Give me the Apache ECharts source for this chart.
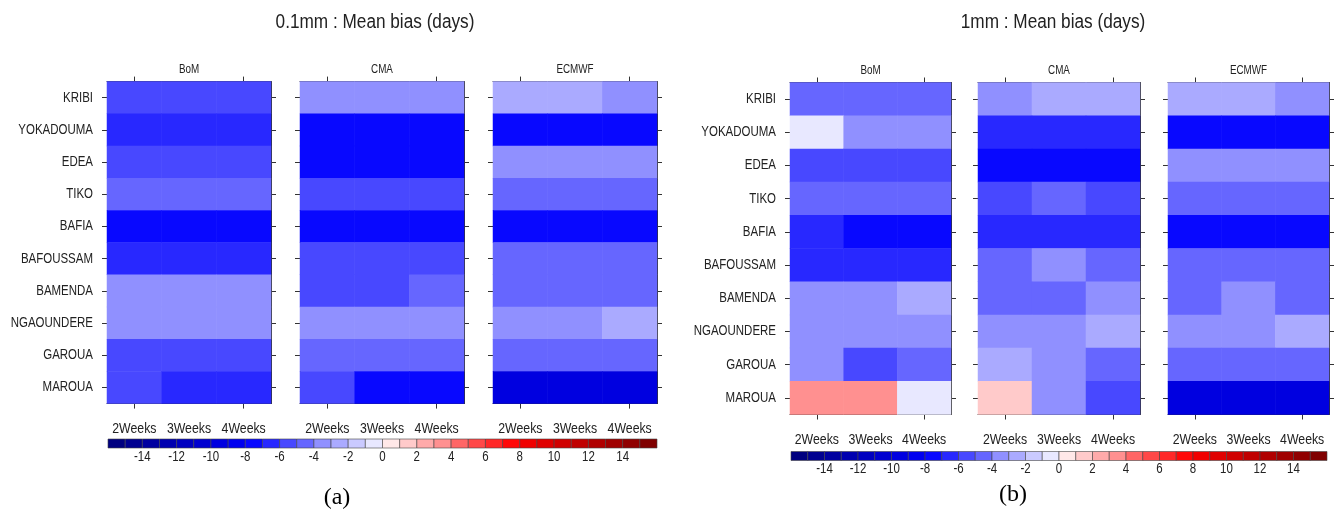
<!DOCTYPE html>
<html>
<head>
<meta charset="utf-8">
<script src="https://cdn.jsdelivr.net/npm/echarts@6/dist/echarts.min.js"></script>
<style>
html,body{margin:0;padding:0;background:#fff;}
#chart{width:1335px;height:514px;}
</style>
</head>
<body>
<div id="chart"></div>
<script>
// ---------- data ----------
const stations = ['KRIBI','YOKADOUMA','EDEA','TIKO','BAFIA','BAFOUSSAM','BAMENDA','NGAOUNDERE','GAROUA','MAROUA'];
const leads = ['2Weeks','3Weeks','4Weeks'];
const models = ['BoM','CMA','ECMWF'];
const titleA = '0.1mm : Mean bias (days)';
const titleB = '1mm : Mean bias (days)';

// mean bias (days), rows = stations, cols = 2/3/4 weeks  (threshold 0.1mm)
const bom01 = [
  [-5.5,-5.5,-5.5],[-6.5,-6.5,-6.5],[-5.5,-5.5,-5.5],[-4.5,-4.5,-4.5],[-7.5,-7.5,-7.5],
  [-6.5,-6.5,-6.5],[-3.5,-3.5,-3.5],[-3.5,-3.5,-3.5],[-5.5,-5.5,-5.5],[-5.5,-6.5,-6.5]];
const cma01 = [
  [-3.5,-3.5,-3.5],[-7.5,-7.5,-7.5],[-7.5,-7.5,-7.5],[-5.5,-5.5,-5.5],[-7.5,-7.5,-7.5],
  [-5.5,-5.5,-5.5],[-5.5,-5.5,-4.5],[-3.5,-3.5,-3.5],[-4.5,-4.5,-4.5],[-5.5,-7.5,-7.5]];
const ecmwf01 = [
  [-2.5,-2.5,-3.5],[-7.5,-7.5,-7.5],[-3.5,-3.5,-3.5],[-4.5,-4.5,-4.5],[-7.5,-7.5,-7.5],
  [-4.5,-4.5,-4.5],[-4.5,-4.5,-4.5],[-3.5,-3.5,-2.5],[-4.5,-4.5,-4.5],[-9.5,-9.5,-9.5]];
// threshold 1mm
const bom1 = [
  [-4.5,-4.5,-4.5],[-0.5,-3.5,-3.5],[-5.5,-5.5,-5.5],[-4.5,-4.5,-4.5],[-6.5,-7.5,-7.5],
  [-6.5,-6.5,-6.5],[-3.5,-3.5,-2.5],[-3.5,-3.5,-3.5],[-3.5,-5.5,-4.5],[3.5,3.5,-0.5]];
const cma1 = [
  [-3.5,-2.5,-2.5],[-6.5,-6.5,-6.5],[-7.5,-7.5,-7.5],[-5.5,-4.5,-5.5],[-6.5,-6.5,-6.5],
  [-4.5,-3.5,-4.5],[-4.5,-4.5,-3.5],[-3.5,-3.5,-2.5],[-2.5,-3.5,-4.5],[1.5,-3.5,-5.5]];
const ecmwf1 = [
  [-2.5,-2.5,-3.5],[-7.5,-7.5,-7.5],[-3.5,-3.5,-3.5],[-4.5,-4.5,-4.5],[-7.5,-7.5,-7.5],
  [-4.5,-4.5,-4.5],[-4.5,-3.5,-4.5],[-3.5,-3.5,-2.5],[-4.5,-4.5,-4.5],[-9.5,-9.5,-9.5]];

// colour scale: lower bounds of the 32 unit boxes, their colours, and labelled ticks
const cbLower = [-16,-15,-14,-13,-12,-11,-10,-9,-8,-7,-6,-5,-4,-3,-2,-1,0,1,2,3,4,5,6,7,8,9,10,11,12,13,14,15];
const cbColors = ['#000080','#000090','#0000a0','#0000b0','#0000c0','#0000d0','#0000e0','#0000f0',
  '#0808ff','#2828ff','#4848ff','#6666ff','#9090ff','#aaaaff','#cacaff','#e8e8ff',
  '#ffe8e8','#ffcaca','#ffaaaa','#ff9090','#ff6666','#ff4848','#ff2828','#ff0808',
  '#f00000','#e00000','#d00000','#c00000','#b00000','#a00000','#900000','#800000'];
const cbTicks = [-14,-12,-10,-8,-6,-4,-2,0,2,4,6,8,10,12,14];

// ---------- layout ----------
const FONT = '"Liberation Sans",Arial,Helvetica,sans-serif';
const NARROW_X = 0.82;
const panels = [
  {data: bom01,   left: 107, top: 81.6, width: 164, height: 322, labels: true,  name: models[0]},
  {data: cma01,   left: 300, top: 81.6, width: 164, height: 322, labels: false, name: models[1]},
  {data: ecmwf01, left: 493, top: 81.6, width: 164, height: 322, labels: false, name: models[2]},
  {data: bom1,    left: 790, top: 82.5, width: 161, height: 332, labels: true,  name: models[0]},
  {data: cma1,    left: 978, top: 82.5, width: 162, height: 332, labels: false, name: models[1]},
  {data: ecmwf1,  left: 1168,top: 82.5, width: 161, height: 332, labels: false, name: models[2]}
];
const colorbars = [
  {left: 108, top: 439, width: 549, height: 9},
  {left: 791, top: 451.5, width: 536, height: 9}
];

const axisLine = {show: true, lineStyle: {color: '#333', width: 1}};
const axisTick = {show: true, alignWithLabel: true, length: 5, lineStyle: {color: '#333', width: 1}};

const grid = [], xAxis = [], yAxis = [], series = [];

panels.forEach((p, g) => {
  grid.push({left: p.left, top: p.top, width: p.width, height: p.height, containLabel: false});
  xAxis.push({gridIndex: g, type: 'category', data: leads, position: 'bottom',
    axisLine, axisTick, axisLabel: {show: false}, splitLine: {show: false}});
  xAxis.push({gridIndex: g, type: 'category', data: leads, position: 'top',
    axisLine, axisTick, axisLabel: {show: false}, splitLine: {show: false}});
  yAxis.push({gridIndex: g, type: 'category', data: stations, inverse: true, position: 'left',
    axisLine, axisTick, axisLabel: {show: false}, splitLine: {show: false}});
  yAxis.push({gridIndex: g, type: 'category', data: stations, inverse: true, position: 'right',
    axisLine, axisTick, axisLabel: {show: false}, splitLine: {show: false}});
  const d = [];
  p.data.forEach((row, r) => row.forEach((v, c) => d.push([c, r, v])));
  series.push({type: 'heatmap', xAxisIndex: 2 * g, yAxisIndex: 2 * g, data: d,
    itemStyle: {borderWidth: 0}, emphasis: {disabled: true}, z: 1});
});

const cbAxis = [];
colorbars.forEach((cb, k) => {
  const gi = grid.length;
  grid.push({left: cb.left, top: cb.top, width: cb.width, height: cb.height});
  const xi = xAxis.length, yi = yAxis.length;
  cbAxis.push(xi);
  xAxis.push({gridIndex: gi, type: 'value', min: -16, max: 16, interval: 2,
    axisLine: {show: false}, axisTick: {show: false}, splitLine: {show: false},
    axisLabel: {show: false}});
  yAxis.push({gridIndex: gi, type: 'value', min: 0, max: 1, show: false});
  series.push({type: 'custom', xAxisIndex: xi, yAxisIndex: yi, clip: false,
    data: cbLower.map(v => [v, 0]),
    encode: {x: 0, y: 1},
    renderItem: (params, api) => {
      const v = api.value(0);
      const a = api.coord([v, 1]);
      const b = api.coord([v + 1, 0]);
      return {type: 'rect', shape: {x: a[0], y: a[1], width: b[0] - a[0], height: b[1] - a[1]},
        style: {fill: cbColors[params.dataIndex], stroke: '#444', lineWidth: 0.6}};
    }, silent: true});
});

const pieces = cbLower.map((v, i) => ({gte: v, lt: v + 1, color: cbColors[i]}));

const chart = echarts.init(document.getElementById('chart'), null, {renderer: 'canvas'});
chart.setOption({
  backgroundColor: '#fff',
  animation: false,
  grid, xAxis, yAxis, series,
  visualMap: [{type: 'piecewise', show: false, dimension: 2, seriesIndex: [0,1,2,3,4,5], pieces}]
});

// ---------- text (narrow Helvetica look), positioned through the axes ----------
function txt(text, x, y, size, align, sx, family, color) {
  return {type: 'text', x: x, y: y, scaleX: sx, silent: true,
    style: {text: text, x: 0, y: 0, align: align, verticalAlign: 'middle',
      textAlign: align, textVerticalAlign: 'middle',
      font: size + 'px ' + (family || FONT), fill: color || '#222'}};
}
const graphic = [];
panels.forEach((p, g) => {
  graphic.push(txt(p.name, p.left + p.width / 2, p.top - 12, 12, 'center', NARROW_X));
  leads.forEach(l => {
    const x = chart.convertToPixel({xAxisIndex: 2 * g}, l);
    graphic.push(txt(l, x, p.top + p.height + 25, 15, 'center', NARROW_X));
  });
  if (p.labels) {
    stations.forEach(s => {
      const y = chart.convertToPixel({yAxisIndex: 2 * g}, s);
      graphic.push(txt(s, p.left - 14, y, 14, 'right', NARROW_X));
    });
  }
});
colorbars.forEach((cb, k) => {
  cbTicks.forEach(v => {
    const x = chart.convertToPixel({xAxisIndex: cbAxis[k]}, v);
    graphic.push(txt(String(v), x, cb.top + cb.height + 9, 14, 'center', NARROW_X));
  });
});
graphic.push(txt(titleA, 375, 22, 20, 'center', 0.86));
graphic.push(txt(titleB, 1053, 22, 20, 'center', 0.86));
graphic.push(txt('(a)', 337, 498, 24, 'center', 1, '"Liberation Serif","Times New Roman",serif', '#000'));
graphic.push(txt('(b)', 1013, 495, 24, 'center', 1, '"Liberation Serif","Times New Roman",serif', '#000'));
chart.setOption({graphic: graphic});
</script>
</body>
</html>
